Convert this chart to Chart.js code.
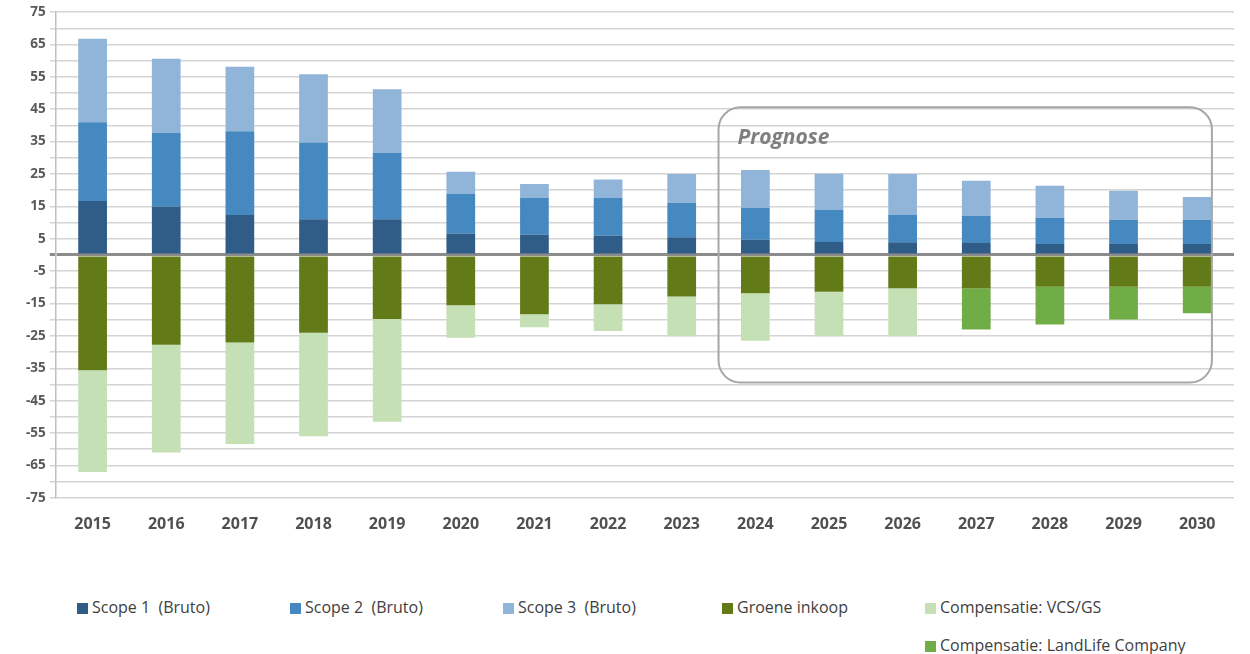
<!DOCTYPE html>
<html>
<head>
<meta charset="utf-8">
<script src="https://cdn.jsdelivr.net/npm/chart.js@4.4.0/dist/chart.umd.min.js"></script>
<style>
  body { margin: 0; background: #fff; }
  #wrap { position: relative; width: 1250px; height: 654px; }
  #box { position: absolute; left: 0; top: 0; width: 1250px; height: 543px; }
  .leg { position: absolute; font-family: 'Liberation Sans Narrow', 'Open Sans', sans-serif; font-size: 16px; color: #404040; white-space: pre; }
  .leg i { display: inline-block; width: 11px; height: 11px; margin-right: 4px; vertical-align: -1px; }
</style>
</head>
<body>
<div id="wrap">
  <div id="box"><canvas id="myChart"></canvas></div>
  <div id="legend"></div>
</div>
<script>
const years = ['2015','2016','2017','2018','2019','2020','2021','2022','2023','2024','2025','2026','2027','2028','2029','2030'];

const scope1 = [16.7, 14.9, 12.3, 11.0, 11.0, 6.6, 6.3, 5.9, 5.5, 4.7, 4.0, 3.9, 3.7, 3.4, 3.4, 3.4];
const scope2 = [24.3, 22.8, 25.9, 23.7, 20.6, 12.2, 11.3, 11.7, 10.6, 9.9, 9.9, 8.4, 8.3, 8.1, 7.5, 7.5];
const scope3 = [25.8, 22.9, 19.9, 21.1, 19.6, 6.9, 4.3, 5.7, 8.9, 11.6, 11.2, 12.7, 10.9, 9.9, 8.9, 7.0];
const groene = [-35.6, -27.7, -27.0, -24.0, -19.8, -15.5, -18.3, -15.2, -12.8, -11.8, -11.4, -10.3, -10.3, -9.8, -9.8, -9.8];
const vcsgs = [-31.4, -33.3, -31.4, -32.0, -31.7, -10.1, -4.0, -8.3, -12.3, -14.7, -13.7, -14.8, 0, 0, 0, 0];
const landlife = [0, 0, 0, 0, 0, 0, 0, 0, 0, 0, 0, 0, -12.7, -11.7, -10.1, -8.2];

const yTop = 75;
const yBottom = -75;

const ctx = document.getElementById('myChart');

// rounded box round the forecast years
const prognoseBox = {
  id: 'prognoseBox',
  afterDatasetsDraw(chart) {
    const x = chart.scales.x, y = chart.scales.y, c = chart.ctx;
    const left = x.getPixelForValue(8.5);
    const right = x.getPixelForValue(15.2);
    const top = y.getPixelForValue(45.6);
    const bottom = y.getPixelForValue(-39.4);
    c.save();
    c.strokeStyle = '#a6a6a6';
    c.lineWidth = 2;
    c.beginPath();
    c.roundRect(left, top, right - left, bottom - top, 22);
    c.stroke();
    c.fillStyle = '#7f7f7f';
    c.font = 'italic bold 21px "Open Sans", sans-serif';
    c.textBaseline = 'middle';
    c.fillText('Prognose', left + 19, top + 31);
    c.restore();
  }
};

new Chart(ctx, {
  type: 'bar',
  data: {
    labels: years,
    datasets: [
      { label: 'Scope 1  (Bruto)', data: scope1, backgroundColor: '#2f5d88' },
      { label: 'Scope 2  (Bruto)', data: scope2, backgroundColor: '#4689c0' },
      { label: 'Scope 3  (Bruto)', data: scope3, backgroundColor: '#90b5d9' },
      { label: 'Groene inkoop', data: groene, backgroundColor: '#637a18' },
      { label: 'Compensatie: VCS/GS', data: vcsgs, backgroundColor: '#c5e0b4' },
      { label: 'Compensatie: LandLife Company', data: landlife, backgroundColor: '#70ad47' }
    ]
  },
  options: {
    responsive: true,
    maintainAspectRatio: false,
    animation: false,
    layout: { padding: { top: 9, right: 16, left: 22, bottom: 0 } },
    datasets: { bar: { barPercentage: 0.39, categoryPercentage: 1 } },
    scales: {
      x: {
        stacked: true,
        grid: { display: false },
        border: { display: false },
        ticks: { color: '#505050', font: { family: 'Open Sans', size: 16, weight: 'bold' }, padding: 9 }
      },
      y: {
        stacked: true,
        min: yBottom,
        max: yTop,
        border: { display: true, color: '#bfbfbf', width: 1.5 },
        grid: {
          color: c => c.tick && c.tick.value === 0 ? '#8c8c8c' : '#d4d4d4',
          lineWidth: c => c.tick && c.tick.value === 0 ? 3 : 1.5,
          tickLength: 6
        },
        ticks: {
          stepSize: 5,
          autoSkip: false,
          color: '#595959',
          font: { family: 'Open Sans', size: 13.5, weight: 'bold' },
          padding: 4,
          callback: v => ((yTop - v) % 10 === 0 ? v : '')
        }
      }
    },
    plugins: {
      legend: { display: false },
      tooltip: { enabled: false }
    }
  },
  plugins: [prognoseBox]
});

// legend, laid out like the original
const legItems = [
  ['Scope 1  (Bruto)', '#2f5d88', 77, 596],
  ['Scope 2  (Bruto)', '#4689c0', 290, 596],
  ['Scope 3  (Bruto)', '#90b5d9', 503, 596],
  ['Groene inkoop', '#637a18', 722, 596],
  ['Compensatie: VCS/GS', '#c5e0b4', 925, 596],
  ['Compensatie: LandLife Company', '#70ad47', 925, 634]
];
const legend = document.getElementById('legend');
legItems.forEach(([txt, col, lx, ly]) => {
  const d = document.createElement('div');
  d.className = 'leg';
  d.style.left = lx + 'px';
  d.style.top = ly + 'px';
  d.innerHTML = '<i style="background:' + col + '"></i>' + txt;
  legend.appendChild(d);
});
</script>
</body>
</html>
